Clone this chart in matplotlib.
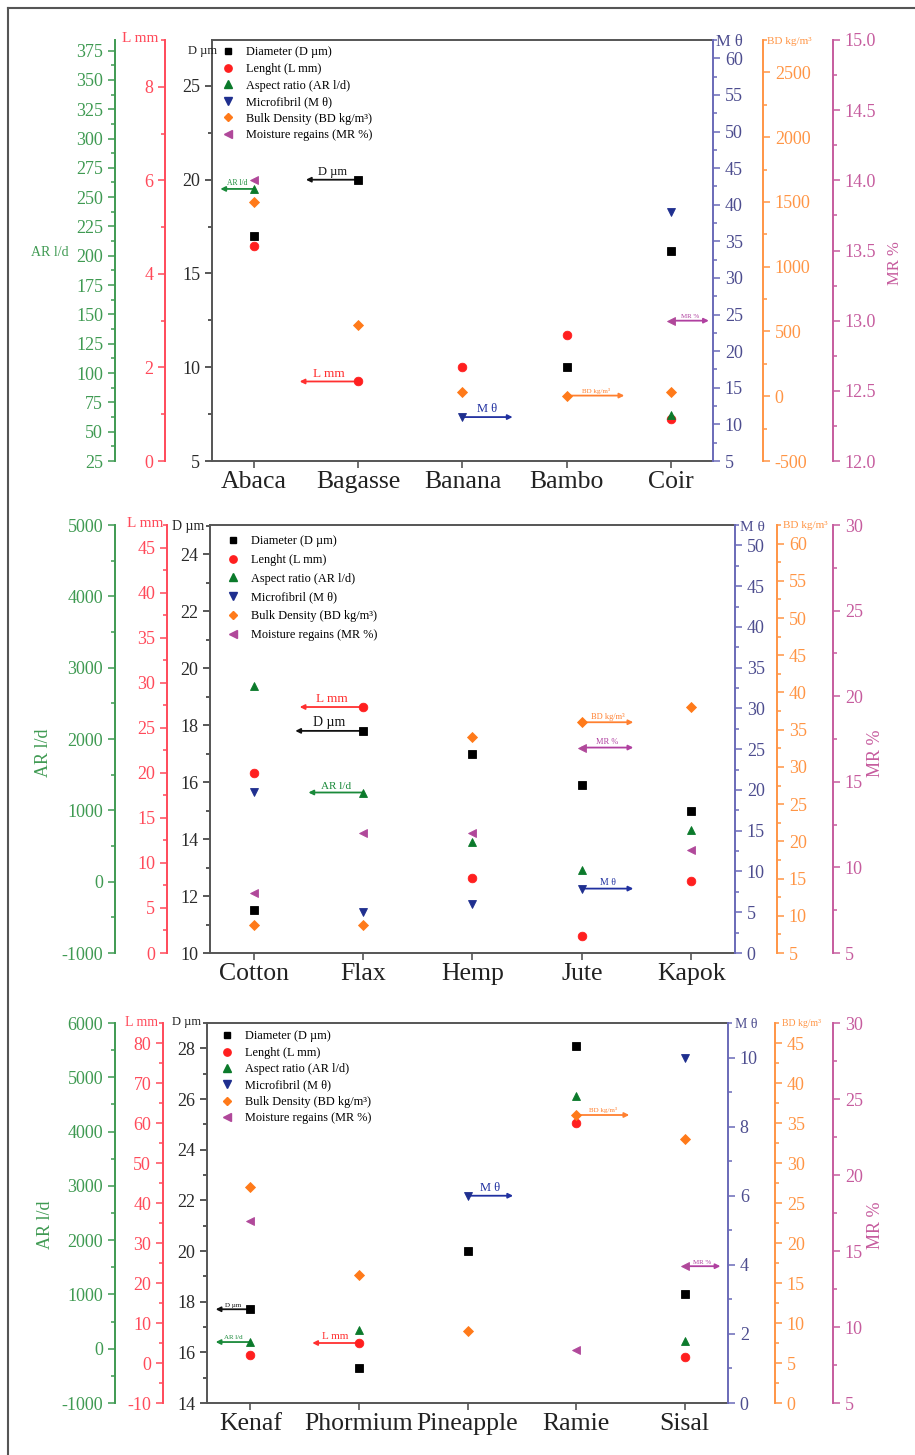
import numpy as np
import matplotlib
matplotlib.use('Agg')
import matplotlib.pyplot as plt
from matplotlib.ticker import MultipleLocator, FormatStrFormatter
from matplotlib.lines import Line2D

plt.rcParams['font.family'] = ['Liberation Serif', 'DejaVu Serif']
plt.rcParams['axes.unicode_minus'] = False

nan = np.nan

# ---------------- data ----------------
fibers_1 = ['Abaca', 'Bagasse', 'Banana', 'Bambo', 'Coir']
D_1 = [17.0, 20.0, nan, 10.0, 16.2]
L_1 = [4.6, 1.7, 2.0, 2.7, 0.9]
AR_1 = [257, nan, nan, nan, 64]
M_1 = [nan, nan, 11.0, nan, 39.0]
BD_1 = [1500, 550, 30, 5, 35]
MR_1 = [14.0, nan, nan, nan, 13.0]

fibers_2 = ['Cotton', 'Flax', 'Hemp', 'Jute', 'Kapok']
D_2 = [11.5, 17.8, 17.0, 15.9, 15.0]
L_2 = [20.0, 27.3, 8.3, 1.9, 8.0]
AR_2 = [2750, 1250, 550, 160, 730]
M_2 = [19.8, 5.0, 6.0, 7.9, nan]
BD_2 = [8.8, 8.8, 34.0, 36.0, 38.0]
MR_2 = [8.5, 12.0, 12.0, 17.0, 11.0]

fibers_3 = ['Kenaf', 'Phormium', 'Pineapple', 'Ramie', 'Sisal']
D_3 = [17.7, 15.4, 20.0, 28.1, 18.3]
L_3 = [1.9, 5.0, nan, 60.0, 1.6]
AR_3 = [123, 350, nan, 4650, 134]
M_3 = [nan, nan, 6.0, nan, 10.0]
BD_3 = [27.0, 16.0, 9.0, 36.0, 33.0]
MR_3 = [17.0, nan, nan, 8.5, 14.0]

legend_labels = ['Diameter (D µm)', 'Lenght (L mm)', 'Aspect ratio (AR l/d)',
                 'Microfibril (M θ)', 'Bulk Density (BD kg/m³)', 'Moisture regains (MR %)']
axis_names = {'D': 'D µm', 'L': 'L mm', 'AR': 'AR l/d', 'M': 'M θ', 'BD': 'BD kg/m³', 'MR': 'MR %'}

# ---------------- styles ----------------
keys = ['D', 'L', 'AR', 'M', 'BD', 'MR']
mk = {'D': 's', 'L': 'o', 'AR': '^', 'M': 'v', 'BD': 'D', 'MR': '<'}
ms = {'D': 5.6, 'L': 6.2, 'AR': 6.4, 'M': 6.4, 'BD': 4.8, 'MR': 6.4}
mcol = {'D': '#000000', 'L': '#ff1f1f', 'AR': '#0b7a2b', 'M': '#1f2f8f', 'BD': '#ff7a1a', 'MR': '#b0489a'}
acol = {'D': '#3a3a3a', 'L': '#ff4a5a', 'AR': '#3f9a52', 'M': '#6a6ab8', 'BD': '#ff9545', 'MR': '#c65c9e'}
tcol = {'D': '#2a2a2a', 'L': '#ff4a5a', 'AR': '#3f9a52', 'M': '#4d4d8f', 'BD': '#ff9545', 'MR': '#c65c9e'}
arrcol = {'D': '#111111', 'L': '#ff3030', 'AR': '#1a8a3a', 'M': '#2030a0', 'BD': '#ff8030', 'MR': '#b040a0'}

W, H = 915, 1455
fig = plt.figure(figsize=(W / 100, H / 100), dpi=100)


def rect(l, t, r, b):
    return [l / W, 1 - b / H, (r - l) / W, (b - t) / H]


def ftext(x, y, s, **kw):
    fig.text(x / W, 1 - y / H, s, **kw)


panels = [
    dict(fibers=fibers_1, data=dict(D=D_1, L=L_1, AR=AR_1, M=M_1, BD=BD_1, MR=MR_1),
         box=(212, 40, 713, 461), spx=dict(AR=115, L=165, M=713, BD=763, MR=833),
         lims=dict(D=(5, 27.45), L=(0, 9), AR=(25, 384), M=(5, 62.5), BD=(-500, 2750), MR=(12, 15)),
         major=dict(D=5, L=2, AR=25, M=5, BD=500, MR=0.5),
         fmt=dict(MR='%.1f'),
         leg=(222, 46.5, 0.37),
         ann=[('AR', 0, -0.32, 5.5), ('D', 1, -0.50, 9), ('L', 1, -0.56, 9.5),
              ('M', 2, 0.48, 9), ('BD', 3, 0.55, 5), ('MR', 4, 0.36, 5)],
         lab=dict(L=(158, 38, 11), D=(202, 51, 9), M=(716, 42, 12), BD=(767, 42, 8)),
         ar=(50, 253, 10, 0), mr=(895, 263, 12)),
    dict(fibers=fibers_2, data=dict(D=D_2, L=L_2, AR=AR_2, M=M_2, BD=BD_2, MR=MR_2),
         box=(210, 525, 735, 953), spx=dict(AR=115, L=167, M=735, BD=777, MR=833),
         lims=dict(D=(10, 25.03), L=(0, 47.5), AR=(-1000, 5000), M=(0, 52.5), BD=(5, 62.5), MR=(5, 30)),
         major=dict(D=2, L=5, AR=1000, M=5, BD=5, MR=5),
         fmt=dict(),
         leg=(227, 535, 0.56),
         ann=[('L', 1, -0.58, 9.5), ('D', 1, -0.62, 10), ('AR', 1, -0.50, 8),
              ('BD', 3, 0.47, 6), ('MR', 3, 0.47, 6), ('M', 3, 0.47, 7)],
         lab=dict(L=(163, 523, 11), D=(188, 526, 10), M=(740, 527, 11), BD=(783, 525, 8)),
         ar=(43, 753, 13, 90), mr=(875, 753, 13)),
    dict(fibers=fibers_3, data=dict(D=D_3, L=L_3, AR=AR_3, M=M_3, BD=BD_3, MR=MR_3),
         box=(207, 1023, 728, 1403), spx=dict(AR=115, L=163, M=728, BD=775, MR=833),
         lims=dict(D=(14, 29), L=(-10, 85), AR=(-1000, 6000), M=(0, 11), BD=(0, 47.5), MR=(5, 30)),
         major=dict(D=2, L=10, AR=1000, M=2, BD=5, MR=5),
         fmt=dict(),
         leg=(221, 1030.5, 0.36),
         ann=[('D', 0, -0.32, 5), ('AR', 0, -0.32, 5), ('L', 1, -0.43, 8),
              ('M', 2, 0.42, 9), ('BD', 3, 0.49, 5), ('MR', 4, 0.33, 5)],
         lab=dict(L=(158, 1023, 10), D=(187, 1022, 9), M=(735, 1025, 10), BD=(782, 1023, 7)),
         ar=(45, 1225, 13, 90), mr=(875, 1225, 13)),
]

XL = (0.6, 5.4)

for p in panels:
    l, t, r, b = p['box']
    rc = rect(l, t, r, b)
    n = len(p['fibers'])
    xs = np.arange(1, n + 1)
    axes = {}
    # main axis (diameter)
    ax = fig.add_axes(rc)
    ax.patch.set_visible(False)
    ax.set_xlim(*XL)
    ax.set_ylim(*p['lims']['D'])
    ax.spines['right'].set_visible(False)
    for s in ['left', 'top', 'bottom']:
        ax.spines[s].set_color('#555555')
        ax.spines[s].set_linewidth(1.4)
    ax.set_xticks(xs)
    ax.set_xticklabels(p['fibers'], fontsize=18.5, color='#222222')
    ax.tick_params(axis='x', direction='out', length=5, width=1.2, color='#555555', pad=2.5)
    ax.yaxis.set_major_locator(MultipleLocator(p['major']['D']))
    ax.yaxis.set_minor_locator(MultipleLocator(p['major']['D'] / 2))
    ax.tick_params(axis='y', which='both', direction='out', colors=tcol['D'], labelsize=13, width=1.1)
    ax.tick_params(axis='y', which='major', length=5)
    ax.tick_params(axis='y', which='minor', length=3)
    axes['D'] = ax

    for k in ['L', 'AR', 'M', 'BD', 'MR']:
        a = fig.add_axes(rc)
        a.patch.set_visible(False)
        a.set_xlim(*XL)
        a.set_ylim(*p['lims'][k])
        a.xaxis.set_visible(False)
        side = 'left' if k in ('L', 'AR') else 'right'
        for s in a.spines.values():
            s.set_visible(False)
        sp = a.spines[side]
        sp.set_visible(True)
        sp.set_position(('axes', (p['spx'][k] - l) / (r - l)))
        sp.set_color(acol[k])
        sp.set_linewidth(1.4)
        a.yaxis.set_ticks_position(side)
        a.yaxis.set_major_locator(MultipleLocator(p['major'][k]))
        a.yaxis.set_minor_locator(MultipleLocator(p['major'][k] / 2))
        if k in p['fmt']:
            a.yaxis.set_major_formatter(FormatStrFormatter(p['fmt'][k]))
        a.tick_params(axis='y', which='both', direction='out', color=acol[k],
                      labelcolor=tcol[k], labelsize=13, width=1.1)
        a.tick_params(axis='y', which='major', length=5)
        a.tick_params(axis='y', which='minor', length=3)
        axes[k] = a

    # markers
    for k in keys:
        axes[k].plot(xs, p['data'][k], linestyle='none', marker=mk[k], ms=ms[k],
                     color=mcol[k], markeredgewidth=0.6, clip_on=False, zorder=5)

    # annotation arrows
    for k, i, dx, fs in p['ann']:
        a = axes[k]
        y = p['data'][k][i]
        x0 = xs[i]
        a.annotate('', xy=(x0 + dx, y), xytext=(x0, y),
                   arrowprops=dict(arrowstyle='-|>', color=arrcol[k], lw=1.3,
                                   mutation_scale=7, shrinkA=0, shrinkB=0), zorder=4)
        a.annotate(axis_names[k], xy=(x0 + dx / 2, y), xytext=(0, 1.2), textcoords='offset points',
                   ha='center', va='bottom', fontsize=fs, color=arrcol[k])

    # legend
    lx, ly, lsp = p['leg']
    handles = [Line2D([], [], linestyle='none', marker=mk[k], ms=ms[k] * 0.85, color=mcol[k])
               for k in keys]
    ax.legend(handles, legend_labels, loc='upper left',
              bbox_to_anchor=((lx - l) / (r - l), (b - ly) / (b - t)),
              frameon=False, fontsize=8.8, handlelength=1.0, handletextpad=0.95,
              labelspacing=lsp, borderpad=0, borderaxespad=0, numpoints=1)

    # axis titles
    xL, yL, fL = p['lab']['L']
    ftext(xL, yL, axis_names['L'], color=tcol['L'], fontsize=fL, ha='right', va='center')
    xD, yD, fD = p['lab']['D']
    ftext(xD, yD, axis_names['D'], color='#222222', fontsize=fD, ha='center', va='center')
    xM, yM, fM = p['lab']['M']
    ftext(xM, yM, axis_names['M'], color=tcol['M'], fontsize=fM, ha='left', va='center')
    xB, yB, fB = p['lab']['BD']
    ftext(xB, yB, axis_names['BD'], color=tcol['BD'], fontsize=fB, ha='left', va='center')
    xa, ya, fa, rot = p['ar']
    ftext(xa, ya, axis_names['AR'], color=tcol['AR'], fontsize=fa, ha='center', va='center', rotation=rot)
    xm, ym, fm = p['mr']
    ftext(xm, ym, axis_names['MR'], color=tcol['MR'], fontsize=fm, ha='center', va='center', rotation=90)

# outer frame
fig.add_artist(Line2D([8 / W, 8 / W], [0, 1 - 8 / H], color='#555555', lw=1.5))
fig.add_artist(Line2D([8 / W, 1], [1 - 8 / H, 1 - 8 / H], color='#555555', lw=1.5))

fig.savefig('out.png', dpi=100)
